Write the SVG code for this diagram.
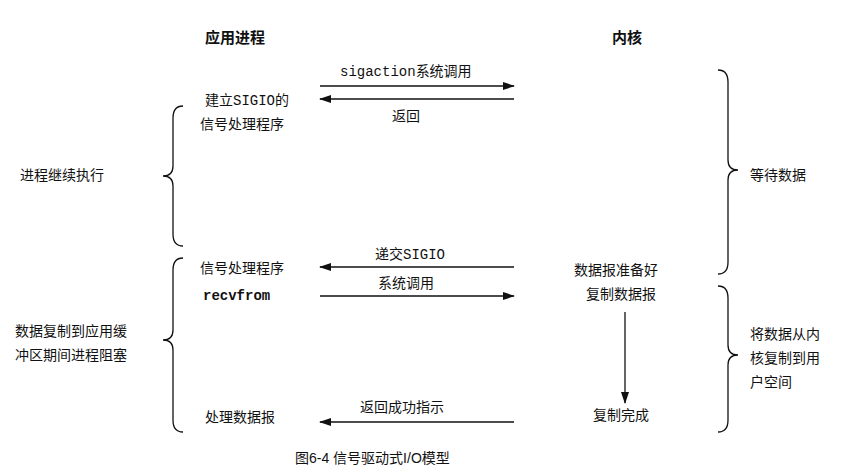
<svg xmlns="http://www.w3.org/2000/svg" width="853" height="468" viewBox="0 0 853 468">
<defs>
<marker id="ah" markerWidth="12" markerHeight="8" refX="11" refY="4" orient="auto" markerUnits="userSpaceOnUse"><path d="M0,0 L12,4 L0,8 Z" fill="#111"/></marker>
<style>
text{font-family:"Liberation Sans","Noto Sans CJK SC",sans-serif;font-size:14px;fill:#111}
.h{font-weight:bold;font-size:15px}
.m{font-family:"Liberation Mono","Noto Sans CJK SC",monospace}
.b{font-weight:bold}
.ln{stroke:#111;stroke-width:1.3;fill:none}
</style>
</defs>
<rect width="853" height="468" fill="#fff"/>
<g id="headers"><text class="h" x="205" y="43">应用进程</text><text class="h" x="612" y="43">内核</text></g>
<g id="braces" class="ln">
<path class="ln" d="M183,106 Q173,106 173,118 L173,166 Q173,176 163,176 Q173,176 173,186 L173,234 Q173,246 183,246"/>
<path class="ln" d="M183,258 Q173,258 173,270 L173,330 Q173,340 163,340 Q173,340 173,350 L173,420 Q173,432 183,432"/>
<path class="ln" d="M718,70 Q728,70 728,82 L728,160 Q728,170 738,170 Q728,170 728,180 L728,262 Q728,274 718,274"/>
<path class="ln" d="M718,286 Q728,286 728,298 L728,345 Q728,355 738,355 Q728,355 728,365 L728,420 Q728,432 718,432"/>
</g>
<g id="connectors">
<line class="ln" x1="320" y1="86" x2="514" y2="86" marker-end="url(#ah)"/>
<line class="ln" x1="514" y1="99" x2="320" y2="99" marker-end="url(#ah)"/>
<line class="ln" x1="514" y1="267" x2="320" y2="267" marker-end="url(#ah)"/>
<line class="ln" x1="320" y1="296" x2="514" y2="296" marker-end="url(#ah)"/>
<line class="ln" x1="625" y1="312" x2="625" y2="403" marker-end="url(#ah)"/>
<line class="ln" x1="514" y1="422" x2="320" y2="422" marker-end="url(#ah)"/>
</g>
<g id="labels">
<text x="340" y="76"><tspan class="m">sigaction</tspan>系统调用</text>
<text x="392" y="121">返回</text>
<text x="375" y="259">递交<tspan class="m">SIGIO</tspan></text>
<text x="378" y="288">系统调用</text>
<text x="360" y="412">返回成功指示</text>
</g>
<g id="app">
<text x="205" y="105">建立<tspan class="m">SIGIO</tspan>的</text>
<text x="200" y="129">信号处理程序</text>
<text x="20" y="180">进程继续执行</text>
<text x="200" y="273">信号处理程序</text>
<text class="m b" x="203" y="300">recvfrom</text>
<text x="15" y="336">数据复制到应用缓</text>
<text x="15" y="360">冲区期间进程阻塞</text>
<text x="205" y="422">处理数据报</text>
</g>
<g id="kernel">
<text x="574" y="275">数据报准备好</text>
<text x="586" y="299">复制数据报</text>
<text x="593" y="420">复制完成</text>
<text x="750" y="180">等待数据</text>
<text x="750" y="339">将数据从内</text>
<text x="750" y="363">核复制到用</text>
<text x="750" y="387">户空间</text>
</g>
<text x="295" y="463">图6-4  信号驱动式I/O模型</text>
</svg>
